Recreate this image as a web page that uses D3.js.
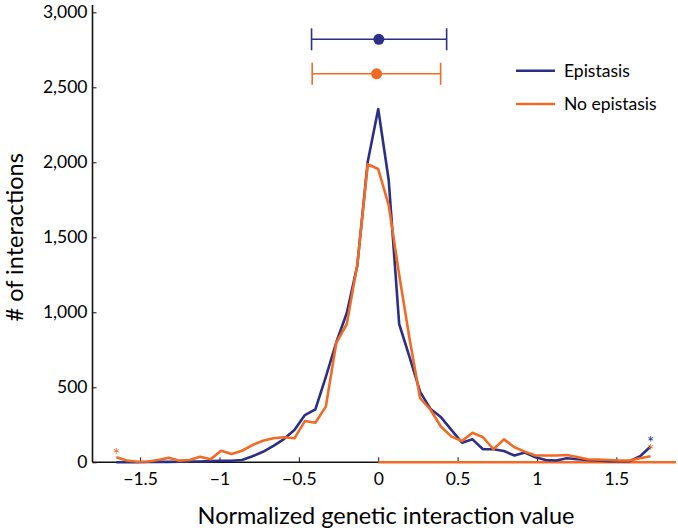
<!DOCTYPE html>
<html>
<head>
<meta charset="utf-8">
<script src="https://cdn.jsdelivr.net/npm/d3@7"></script>
<style>
  html, body { margin: 0; padding: 0; background: #fff; }
  svg text { font-family: Lato, "Open Sans", sans-serif; fill: #000; }
</style>
</head>
<body>
<svg id="chart" width="678" height="531"></svg>
<script>
// ---- data ----
const binCenters = [
  -1.650, -1.584, -1.518, -1.452, -1.386, -1.320, -1.254, -1.188, -1.122, -1.056,
  -0.990, -0.924, -0.858, -0.792, -0.726, -0.660, -0.594, -0.528, -0.462, -0.396,
  -0.330, -0.264, -0.198, -0.132, -0.066, 0.000, 0.066, 0.132, 0.198, 0.264,
  0.330, 0.396, 0.462, 0.528, 0.594, 0.660, 0.726, 0.792, 0.858, 0.924,
  0.990, 1.056, 1.122, 1.188, 1.254, 1.320, 1.386, 1.452, 1.518, 1.584,
  1.650, 1.716
];
const epistasis = [
  0, 0, 0, 2, 3, 3, 4, 5, 5, 8,
  10, 10, 15, 40, 70, 110, 155, 215, 315, 353,
  570, 800, 995, 1310, 2004, 2355, 1882, 922, 700, 470,
  355, 300, 215, 131, 153, 87, 87, 75, 45, 65,
  33, 15, 12, 27, 20, 15, 12, 8, 7, 8,
  40, 105
];
const noEpistasis = [
  33, 12, 4, 5, 15, 31, 11, 15, 37, 20,
  77, 55, 77, 115, 144, 160, 167, 160, 275, 264,
  371, 797, 922, 1315, 1987, 1955, 1715, 1250, 820, 427,
  349, 237, 171, 142, 197, 167, 87, 153, 100, 71,
  45, 45, 45, 49, 35, 20, 18, 15, 12, 12,
  27, 40
];
const seriesNames = ["Epistasis", "No epistasis"];
const seriesColors = ["#2b2f86", "#f26a24"];
// mean and spread shown above the curves: [low, mean, high, height]
const errEpistasis = [-0.420, 0.004, 0.431, 2820];
const errNoEpistasis = [-0.416, -0.010, 0.393, 2590];
const xTicks = [-1.5, -1, -0.5, 0, 0.5, 1, 1.5];
const yTicks = [0, 500, 1000, 1500, 2000, 2500, 3000];

// ---- layout ----
const svg = d3.select("#chart");
const x = d3.scaleLinear().domain([-1.80, 1.876]).range([92.5, 676]);
const y = d3.scaleLinear().domain([0, 3000]).range([462.3, 12.3]);

// x axis ticks
const xAxis = d3.axisBottom(x).tickValues(xTicks)
  .tickFormat(d3.format("~g")).tickSize(-5).tickPadding(10).tickSizeOuter(0);
const gx = svg.append("g").attr("transform", `translate(0,${y(0)})`).call(xAxis);
gx.select(".domain").remove();
gx.selectAll("text").style("font-size", "17.5px");
gx.selectAll("line").attr("stroke", "#111").attr("stroke-width", 1);

// y axis ticks
const yAxis = d3.axisLeft(y).tickValues(yTicks)
  .tickFormat(d3.format(",")).tickSize(-4).tickPadding(5).tickSizeOuter(0);
const gy = svg.append("g").attr("transform", `translate(${x.range()[0]},0)`).call(yAxis);
gy.select(".domain").remove();
gy.selectAll("text").style("font-size", "17.5px");
gy.selectAll("line").attr("stroke", "#111").attr("stroke-width", 1);

// axis lines
svg.append("line").attr("x1", x.range()[0]).attr("x2", x.range()[0])
  .attr("y1", 5).attr("y2", y(0)).attr("stroke", "#111").attr("stroke-width", 1.6);
svg.append("line").attr("x1", x.range()[0]).attr("x2", x.range()[1])
  .attr("y1", y(0)).attr("y2", y(0)).attr("stroke", "#111").attr("stroke-width", 1.6);

// orange zero line on the right half
svg.append("line").attr("x1", x(0)).attr("x2", x.range()[1])
  .attr("y1", y(0)).attr("y2", y(0))
  .attr("stroke", seriesColors[1]).attr("stroke-width", 2.4);

// curves
const line = d3.line().x((d, i) => x(binCenters[i])).y(d => y(d));
[epistasis, noEpistasis].forEach((vals, k) => {
  svg.append("path").datum(vals)
    .attr("d", line)
    .attr("fill", "none")
    .attr("stroke", seriesColors[k])
    .attr("stroke-width", 2.6)
    .attr("stroke-linejoin", "round");
});

// asterisks at curve ends
const stars = [
  { xv: binCenters[0], yv: noEpistasis[0], c: seriesColors[1], dy: 4 },
  { xv: binCenters[binCenters.length - 1], yv: epistasis[epistasis.length - 1], c: seriesColors[0], dy: 2 },
  { xv: binCenters[binCenters.length - 1], yv: noEpistasis[noEpistasis.length - 1], c: seriesColors[1], dy: 1 }
];
svg.selectAll("text.star").data(stars).enter().append("text")
  .attr("class", "star")
  .attr("x", d => x(d.xv))
  .attr("y", d => y(d.yv) + d.dy)
  .attr("text-anchor", "middle")
  .style("font-size", "17px")
  .style("fill", d => d.c)
  .text("*");

// error bars with means
[errEpistasis, errNoEpistasis].forEach((e, k) => {
  const g = svg.append("g").attr("stroke", seriesColors[k]).attr("stroke-width", 1.6);
  const yy = y(e[3]);
  g.append("line").attr("x1", x(e[0])).attr("x2", x(e[2])).attr("y1", yy).attr("y2", yy);
  g.append("line").attr("x1", x(e[0])).attr("x2", x(e[0])).attr("y1", yy - 11).attr("y2", yy + 11);
  g.append("line").attr("x1", x(e[2])).attr("x2", x(e[2])).attr("y1", yy - 11).attr("y2", yy + 11);
  svg.append("circle").attr("cx", x(e[1])).attr("cy", yy).attr("r", 5.5)
    .attr("fill", seriesColors[k]);
});

// legend
const legend = svg.append("g");
seriesNames.forEach((name, k) => {
  const ly = 70.7 + k * 33.3;
  legend.append("line").attr("x1", 516).attr("x2", 555).attr("y1", ly).attr("y2", ly)
    .attr("stroke", seriesColors[k]).attr("stroke-width", 2.6);
  legend.append("text").attr("x", 564).attr("y", ly).attr("dy", "0.35em")
    .style("font-size", "17.5px").text(name);
});

// axis titles
svg.append("text")
  .attr("transform", `translate(23,${(y(0) + y(3000)) / 2}) rotate(-90)`)
  .attr("text-anchor", "middle")
  .style("font-size", "23.5px")
  .text("# of interactions");
svg.append("text")
  .attr("x", 386).attr("y", 524)
  .attr("text-anchor", "middle")
  .style("font-size", "23.5px")
  .text("Normalized genetic interaction value");
</script>
</body>
</html>
